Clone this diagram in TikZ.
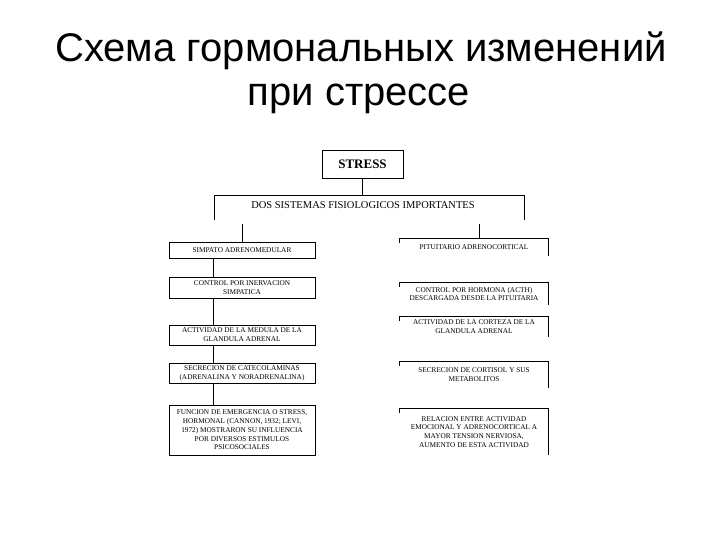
\documentclass[tikz,border=0pt]{standalone}
\usepackage{fontspec}
\setmainfont{Liberation Serif}
\newfontfamily\titlefont{Liberation Sans}
\usetikzlibrary{calc}
\tikzset{
  lbox/.style={draw, line width=0.8pt, minimum width=146pt, inner sep=1pt, align=center, font=\fontsize{7.3}{8.8}\selectfont},
  rbox/.style={minimum width=148pt, inner sep=1pt, align=center, font=\fontsize{7.3}{8.8}\selectfont},
  ln/.style={line width=0.8pt},
  titletext/.style={font=\titlefont\fontsize{40}{48}\selectfont, inner sep=0pt, anchor=base}
}
\begin{document}
\begin{tikzpicture}[x=1pt,y=-1pt]
\useasboundingbox (0,0) rectangle (720,540);
\node[titletext] (t1) at (361,62) {Схема гормональных изменений};
\node[titletext] (t2) at (359,106) {при стрессе};

\node[draw, line width=0.8pt, minimum width=81pt, minimum height=28pt, inner sep=0pt, font=\bfseries\fontsize{13}{14}\selectfont] (stress) at (362.5,164) {STRESS};

\coordinate (bl) at (214,195);
\coordinate (br) at (524,195);
\coordinate (blt) at (214,220);
\coordinate (brt) at (524,220);
\draw[ln] (blt) -- (bl) -- (br) -- (brt);
\draw[ln] (stress.south) -- (stress.south |- bl);
\node[font=\fontsize{10.5}{12}\selectfont, inner sep=0pt] (dos) at (363,205) {DOS SISTEMAS FISIOLOGICOS IMPORTANTES};

% left column
\node[lbox, minimum height=16pt] (L1) at (242,250) {SIMPATO ADRENOMEDULAR};
\node[lbox, minimum height=21pt] (L2) at (242,287.5) {CONTROL POR INERVACION\\SIMPATICA};
\node[lbox, minimum height=20pt] (L3) at (242,335) {ACTIVIDAD DE LA MEDULA DE LA\\GLANDULA ADRENAL};
\node[lbox, minimum height=20pt] (L4) at (242,373) {SECRECION DE CATECOLAMINAS\\(ADRENALINA Y NORADRENALINA)};
\node[lbox, minimum height=50pt] (L5) at (242,430) {FUNCION DE EMERGENCIA O STRESS,\\HORMONAL (CANNON, 1932; LEVI,\\1972) MOSTRARON SU INFLUENCIA\\POR DIVERSOS ESTIMULOS\\PSICOSOCIALES};

\coordinate (lt) at (242,224);
\draw[ln] (lt) -- (L1.north);
\draw[ln] ([xshift=-29pt]L1.south) -- ([xshift=-29pt]L2.north);
\draw[ln] ([xshift=-29pt]L2.south) -- ([xshift=-29pt]L3.north);
\draw[ln] ([xshift=-29pt]L3.south) -- ([xshift=-29pt]L4.north);
\draw[ln] ([xshift=-29pt]L4.south) -- ([xshift=-29pt]L5.north);

% right column
\node[rbox, minimum height=17pt] (R1) at (474,247.5) {PITUITARIO ADRENOCORTICAL};
\node[rbox, minimum height=22pt] (R2) at (474,294) {CONTROL POR HORMONA (ACTH)\\DESCARGADA DESDE LA PITUITARIA};
\node[rbox, minimum height=20pt] (R3) at (474,327) {ACTIVIDAD DE LA CORTEZA DE LA\\GLANDULA ADRENAL};
\node[rbox, minimum height=26pt] (R4) at (474,375) {SECRECION DE CORTISOL Y SUS\\METABOLITOS};
\node[rbox, minimum height=46pt] (R5) at (474,432) {RELACION ENTRE ACTIVIDAD\\EMOCIONAL Y ADRENOCORTICAL A\\MAYOR TENSION NERVIOSA,\\AUMENTO DE ESTA ACTIVIDAD};
\foreach \r in {R1,R2,R3,R4,R5}{
  \draw[ln] ([yshift=-4pt]\r.north west) -- (\r.north west) -- (\r.north east) -- (\r.south east);
}
\coordinate (rt) at (479,224);
\draw[ln] (rt) -- (rt |- R1.north);
\end{tikzpicture}
\end{document}
